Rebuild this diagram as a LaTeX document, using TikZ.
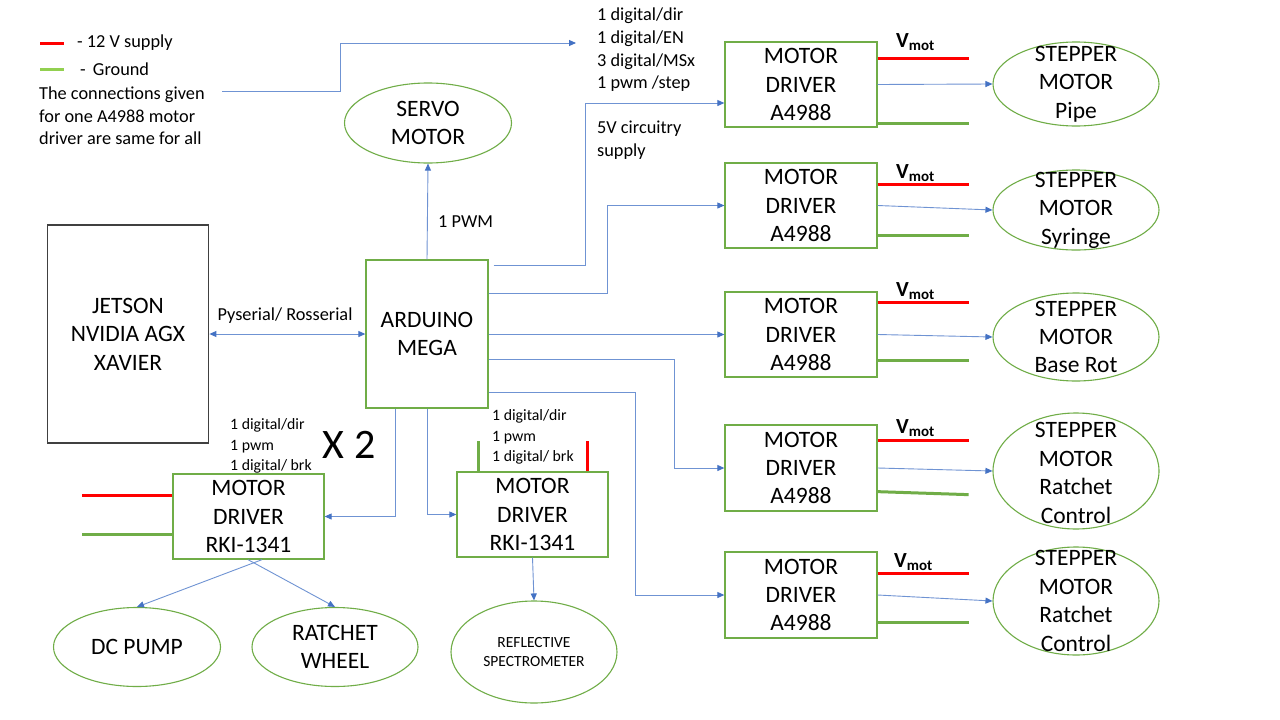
\documentclass[tikz,border=0pt]{standalone}
\usepackage{fontspec}
\setmainfont{Carlito}
\usetikzlibrary{arrows.meta,shapes.geometric,calc}
\definecolor{blueline}{HTML}{6F93D3}
\definecolor{bluetip}{HTML}{4472C4}
\definecolor{boxgreen}{HTML}{70AD47}
\definecolor{wiregreen}{HTML}{70AD47}
\definecolor{legendgreen}{HTML}{92D050}
\definecolor{wirered}{HTML}{FF0000}
\definecolor{darkframe}{HTML}{404040}
\newcommand{\mainfs}{\fontsize{23.5}{28.4}\selectfont}
\newcommand{\smallfs}{\fontsize{18.3}{22.6}\selectfont}
\newcommand{\tinyfs}{\fontsize{15.8}{20.3}\selectfont}
\newcommand{\vmotlabel}{{\bfseries\fontsize{21.5}{21.5}\selectfont V\raisebox{-0.3ex}{\fontsize{15}{15}\selectfont mot}}}
\begin{document}
\begin{tikzpicture}[x=1pt,y=-1pt,
  conn/.style={draw=blueline, line width=0.9pt, -{Triangle[length=7pt,width=6pt,color=bluetip]}},
  gbox/.style={draw=boxgreen, line width=1.3pt, rectangle, inner sep=0pt, align=center, font=\mainfs},
  ell/.style={draw=boxgreen, line width=1.1pt, ellipse, inner sep=0pt},
  lbl/.style={align=center, font=\mainfs, inner sep=0pt},
  note/.style={align=left, font=\smallfs, inner sep=0pt, anchor=west},
  smallnote/.style={align=left, font=\tinyfs, inner sep=0pt, anchor=west},
  redwire/.style={draw=wirered, line width=3pt},
  greenwire/.style={draw=wiregreen, line width=3pt},
  vmot/.style={inner sep=0pt, anchor=west}
]
\useasboundingbox (0,0) rectangle (1280,720);
\fill[white] (0,0) rectangle (1280,720);

% legend
\draw[redwire] (40,43) coordinate (lr1) -- (64,43) coordinate (lr2);
\draw[draw=legendgreen, line width=3pt] (40,69) coordinate (lg1) -- (64,69) coordinate (lg2);
\node[note] (legred) at (77,43) {- 12 V supply};
\node[note] (leggnd) at (80,69) {-\, Ground};
\node[note] (legtext) at (39,116) {The connections given\\for one A4988 motor\\driver are same for all};
\coordinate (legfrom) at (222,91);
\coordinate (legto) at (576,43);
\draw[conn] (legfrom) -- ++(118,0) |- (legto);

% top notes
\node[note] (pins) at (597,50) {1 digital/dir\\1 digital/EN\\3 digital/MSx\\1 pwm /step};
\node[note] (supply) at (597,140) {5V circuitry\\supply};

% main blocks
\node[draw=darkframe, line width=1.8pt, rectangle, minimum width=161pt, minimum height=218pt, inner sep=0pt, align=center, font=\mainfs] (jet) at (128,334) {JETSON\\NVIDIA AGX\\XAVIER};
\node[gbox, minimum width=122pt, minimum height=148pt] (ard) at (427,334) {ARDUINO\\MEGA};

\node[ell, minimum width=167pt, minimum height=80pt] (servo) at (428,123) {};
\node[lbl] at (servo) {SERVO\\MOTOR};

% A4988 drivers
\node[gbox, minimum width=152pt, minimum height=85pt] (md1) at (801,84.5) {MOTOR\\DRIVER\\A4988};
\node[gbox, minimum width=152pt, minimum height=85pt] (md2) at (801,205.5) {MOTOR\\DRIVER\\A4988};
\node[gbox, minimum width=152pt, minimum height=85pt] (md3) at (801,334.5) {MOTOR\\DRIVER\\A4988};
\node[gbox, minimum width=152pt, minimum height=86pt] (md4) at (801,468) {MOTOR\\DRIVER\\A4988};
\node[gbox, minimum width=152pt, minimum height=86pt] (md5) at (801,595) {MOTOR\\DRIVER\\A4988};

% steppers
\node[ell, minimum width=166pt, minimum height=84pt] (st1) at (1076,84) {};
\node[lbl] at (st1) {STEPPER\\MOTOR\\Pipe};
\node[ell, minimum width=166pt, minimum height=80pt] (st2) at (1076,210) {};
\node[lbl] at (st2) {STEPPER\\MOTOR\\Syringe};
\node[ell, minimum width=166pt, minimum height=88pt] (st3) at (1076,337) {};
\node[lbl] at (st3) {STEPPER\\MOTOR\\Base Rot};
\node[ell, minimum width=166pt, minimum height=116pt] (st4) at (1076,471) {};
\node[lbl] at (1076,473) {STEPPER\\MOTOR\\Ratchet\\Control};
\node[ell, minimum width=166pt, minimum height=108pt] (st5) at (1076,601) {};
\node[lbl] at (1076,601) {STEPPER\\MOTOR\\Ratchet\\Control};

% RKI drivers
\node[gbox, minimum width=151pt, minimum height=85pt] (rk1) at (248.5,516.5) {MOTOR\\DRIVER\\RKI-1341};
\node[gbox, minimum width=151pt, minimum height=85pt] (rk2) at (532.5,514.5) {MOTOR\\DRIVER\\RKI-1341};

\node[ell, minimum width=167pt, minimum height=79pt] (pump) at (137,647) {};
\node[lbl] at (pump) {DC PUMP};
\node[ell, minimum width=166pt, minimum height=79pt] (ratchet) at (335,647) {};
\node[lbl] at (ratchet) {RATCHET\\WHEEL};
\node[ell, minimum width=166pt, minimum height=102pt] (spec) at (534,652) {};
\node[align=center, inner sep=0pt, font=\fontsize{15.5}{18.5}\selectfont] at (spec) {REFLECTIVE\\SPECTROMETER};

% labels
\node[note] (pwm) at (438,222) {1 PWM};
\node[font=\smallfs, inner sep=0pt] (ser) at (285,316) {Pyserial/ Rosserial};
\node[smallnote] (rk1pins) at (230,446) {1 digital/dir\\1 pwm\\1 digital/ brk};
\node[font=\fontsize{42}{42}\selectfont, inner sep=0pt] (x2) at (349,445) {X 2};
\node[smallnote] (rk2pins) at (492,437) {1 digital/dir\\1 pwm\\1 digital/ brk};

% connectors from Arduino
\draw[conn, {Triangle[length=7pt,width=6pt,color=bluetip]}-{Triangle[length=7pt,width=6pt,color=bluetip]}] (jet.east) -- (ard.west);
\draw[conn] (ard.north) -- (servo.south);
\draw[conn] ([xshift=5pt,yshift=-6pt]ard.north east) -- ++(92,0) |- ([yshift=-18.5pt]md1.west);
\draw[conn] ([yshift=-34pt]ard.north east) -- ++(119,0) |- (md2.west);
\draw[conn] (ard.east |- md3.west) -- (md3.west);
\draw[conn] ([yshift=-100pt]ard.north east) -- ++(186,0) |- (md4.west);
\draw[conn] ([yshift=-133pt]ard.north east) -- ++(147,0) |- (md5.west);
\draw[conn] ([xshift=30pt]ard.south west) |- (rk1.east);
\draw[conn] (ard.south) |- (rk2.west);

% driver outputs
\draw[conn] (md1.east) -- (st1.west);
\draw[conn] (md2.east) -- (st2.west);
\draw[conn] (md3.east) -- (st3.west);
\draw[conn] (md4.east) -- (st4.west);
\draw[conn] (md5.east) -- (st5.west);
\draw[conn] (rk2.south) -- (spec.north);
\draw[conn] ([xshift=13.5pt]rk1.south) -- (pump.north);
\draw[conn] ([xshift=-0.5pt]rk1.south) -- (ratchet.north);

% power wires A4988
\draw[redwire] ([yshift=-17pt]md1.north east) -- ++(91,0);
\draw[greenwire] ([yshift=4pt]md1.south east) -- ++(91,0);
\draw[redwire] ([yshift=-22pt]md2.north east) -- ++(91,0);
\draw[greenwire] ([yshift=13pt]md2.south east) -- ++(91,0);
\draw[redwire] ([yshift=-11pt]md3.north east) -- ++(91,0);
\draw[greenwire] ([yshift=17pt]md3.south east) -- ++(91,0);
\draw[redwire] ([yshift=-16pt]md4.north east) -- ++(91,0);
\draw[greenwire] ([yshift=20pt]md4.south east) -- ++(91,3);
\draw[redwire] ([yshift=-22pt]md5.north east) -- ++(91,0);
\draw[greenwire] ([yshift=16pt]md5.south east) -- ++(91,0);

\node[vmot] (v1) at (896,42) {\vmotlabel};
\node[vmot] (v2) at (896,173) {\vmotlabel};
\node[vmot] (v3) at (896,291) {\vmotlabel};
\node[vmot] (v4) at (896,428) {\vmotlabel};
\node[vmot] (v5) at (894,562) {\vmotlabel};

% power wires RKI
\draw[redwire] ([yshift=-22pt]rk1.north west) -- ++(-90,0);
\draw[greenwire] ([yshift=-61pt]rk1.north west) -- ++(-90,0);
\draw[greenwire] ([xshift=22pt]rk2.north west) -- ++(0,-30);
\draw[redwire] ([xshift=131pt]rk2.north west) -- ++(0,-30);
\end{tikzpicture}
\end{document}
